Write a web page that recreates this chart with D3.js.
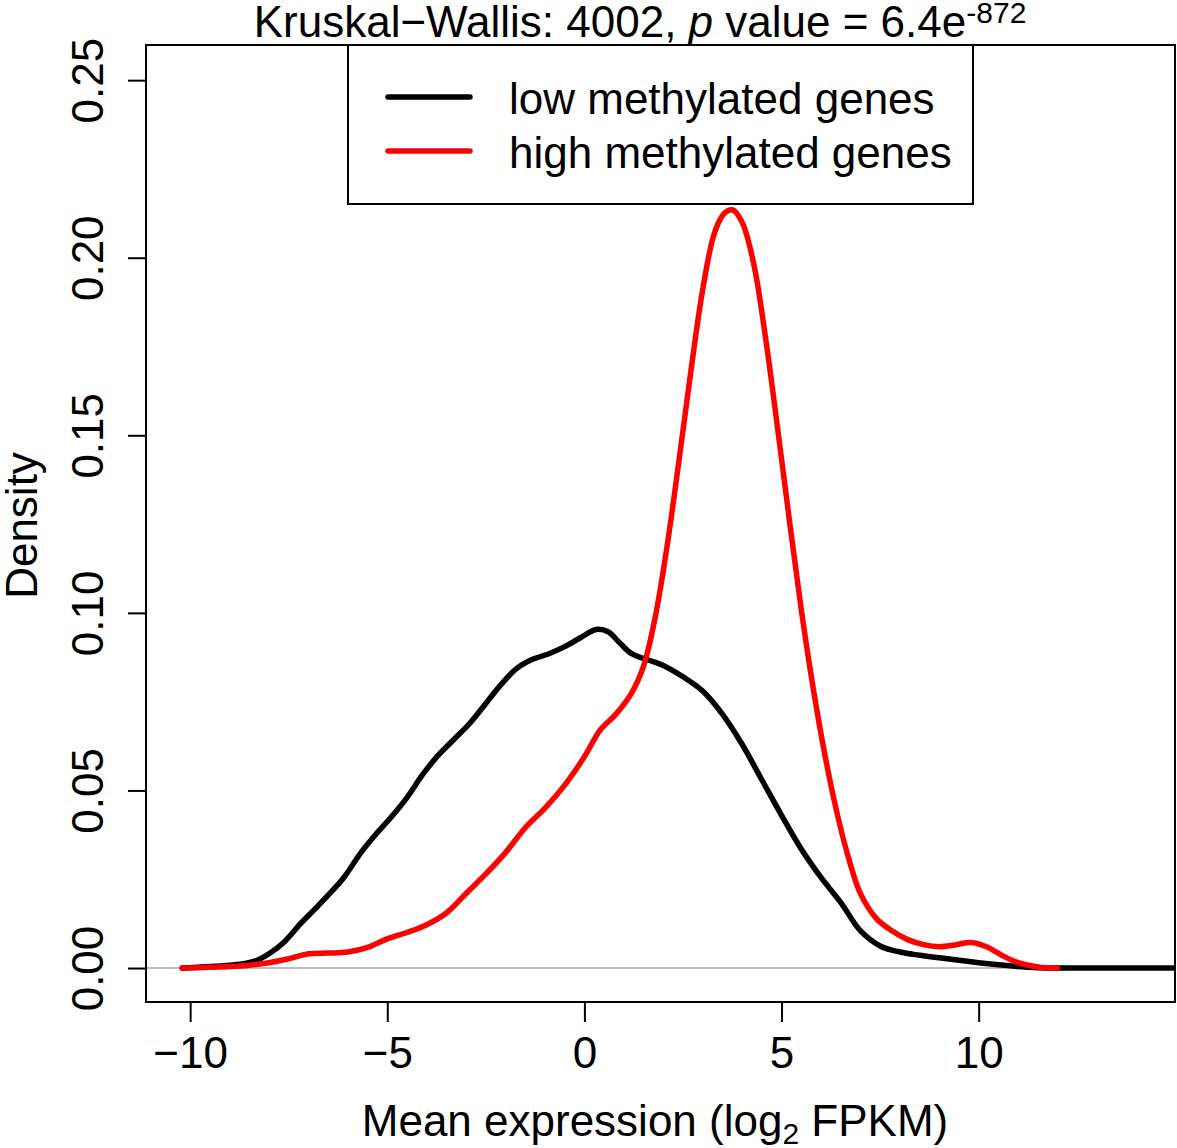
<!DOCTYPE html>
<html>
<head>
<meta charset="utf-8">
<script src="https://cdn.jsdelivr.net/npm/d3@7"></script>
<style>
  html, body { margin: 0; padding: 0; background: #fff; }
  svg { display: block; }
  text { font-family: "Liberation Sans", Arial, sans-serif; fill: #000; }
</style>
</head>
<body>
<svg id="chart" width="1177" height="1148"></svg>
<script>
// ---- Data ----
const xValuesLow = [-10.2, -9.5, -9.0, -8.6, -8.3, -8.0, -7.6, -7.2, -6.8, -6.5, -6.1, -5.7, -5.3, -4.9, -4.5, -4.1, -3.7, -3.3, -2.9, -2.5, -2.1, -1.7, -1.3, -0.9, -0.5, -0.1, 0.3, 0.6, 0.9, 1.2, 1.6, 2.0, 2.5, 3.0, 3.5, 4.0, 4.5, 5.0, 5.5, 6.0, 6.5, 7.0, 7.5, 8.0, 8.5, 9.0, 9.5, 10.0, 10.5, 11.0, 11.5, 12.0, 13.0, 14.0, 14.95];
const densityLow = [0.0000, 0.0004, 0.0008, 0.0013, 0.0022, 0.0040, 0.0075, 0.0125, 0.0170, 0.0205, 0.0255, 0.0320, 0.0375, 0.0425, 0.0480, 0.0545, 0.0600, 0.0645, 0.0690, 0.0745, 0.0800, 0.0845, 0.0870, 0.0885, 0.0905, 0.0930, 0.0953, 0.0947, 0.0915, 0.0885, 0.0868, 0.0852, 0.0820, 0.0780, 0.0715, 0.0630, 0.0530, 0.0430, 0.0335, 0.0255, 0.0185, 0.0105, 0.0062, 0.0045, 0.0036, 0.0029, 0.0022, 0.0015, 0.0009, 0.0004, 0.0001, 0.0000, 0.0000, 0.0000, 0.0000];

const xValuesHigh = [-10.2, -9.5, -9.0, -8.5, -8.0, -7.5, -7.0, -6.5, -6.0, -5.5, -5.0, -4.5, -4.0, -3.5, -3.0, -2.5, -2.0, -1.5, -1.0, -0.5, 0.0, 0.4, 0.8, 1.2, 1.5, 1.8, 2.1, 2.4, 2.7, 3.0, 3.3, 3.55, 3.75, 4.0, 4.3, 4.6, 4.9, 5.2, 5.5, 5.8, 6.1, 6.4, 6.7, 7.0, 7.4, 7.8, 8.2, 8.6, 9.0, 9.4, 9.8, 10.2, 10.6, 11.0, 11.5, 12.0];
const densityHigh = [0.0000, 0.0002, 0.0004, 0.0008, 0.0015, 0.0026, 0.0040, 0.0042, 0.0045, 0.0058, 0.0082, 0.0100, 0.0122, 0.0155, 0.0210, 0.0265, 0.0325, 0.0395, 0.0450, 0.0515, 0.0595, 0.0670, 0.0715, 0.0775, 0.0850, 0.0990, 0.1190, 0.1430, 0.1680, 0.1910, 0.2070, 0.2125, 0.2135, 0.2100, 0.1980, 0.1770, 0.1520, 0.1260, 0.1010, 0.0790, 0.0600, 0.0440, 0.0310, 0.0210, 0.0140, 0.0105, 0.0080, 0.0066, 0.0060, 0.0065, 0.0072, 0.0060, 0.0035, 0.0015, 0.0003, 0.0000];

const seriesNames = ["low methylated genes", "high methylated genes"];
const seriesColors = ["#000000", "#ff0000"];
const xTicks = [-10, -5, 0, 5, 10];
const xTickLabels = ["\u221210", "\u22125", "0", "5", "10"];
const yTicks = [0.00, 0.05, 0.10, 0.15, 0.20, 0.25];
const yTickLabels = ["0.00", "0.05", "0.10", "0.15", "0.20", "0.25"];

// ---- Layout ----
const plot = { left: 146, right: 1175, top: 45, bottom: 1002 };
const svg = d3.select("#chart");

const x = d3.scaleLinear().domain([-11.12, 14.98]).range([plot.left, plot.right]);
const y = d3.scaleLinear().domain([-0.00957, 0.2599]).range([plot.bottom, plot.top]);

const fs = 44;
const fsSmall = 30;

// clip
svg.append("defs").append("clipPath").attr("id", "clip")
  .append("rect").attr("x", plot.left).attr("y", plot.top)
  .attr("width", plot.right - plot.left).attr("height", plot.bottom - plot.top);

// zero baseline
svg.append("line")
  .attr("x1", plot.left).attr("x2", plot.right)
  .attr("y1", y(0)).attr("y2", y(0))
  .attr("stroke", "#bebebe").attr("stroke-width", 2);

// curves
const line = d3.line().x(d => x(d[0])).y(d => y(d[1])).curve(d3.curveCatmullRom.alpha(0.5));
const lowData = xValuesLow.map((v, i) => [v, densityLow[i]]);
const highData = xValuesHigh.map((v, i) => [v, densityHigh[i]]);

const g = svg.append("g").attr("clip-path", "url(#clip)");
g.append("path").datum(lowData).attr("d", line)
  .attr("fill", "none").attr("stroke", seriesColors[0]).attr("stroke-width", 5.5)
  .attr("stroke-linecap", "round").attr("stroke-linejoin", "round");
g.append("path").datum(highData).attr("d", line)
  .attr("fill", "none").attr("stroke", seriesColors[1]).attr("stroke-width", 5.5)
  .attr("stroke-linecap", "round").attr("stroke-linejoin", "round");

// box
svg.append("rect")
  .attr("x", plot.left).attr("y", plot.top)
  .attr("width", plot.right - plot.left).attr("height", plot.bottom - plot.top)
  .attr("fill", "none").attr("stroke", "#000").attr("stroke-width", 2);

// x axis
const xAxis = d3.axisBottom(x).tickValues(xTicks)
  .tickFormat((d, i) => xTickLabels[i]).tickSize(20).tickPadding(15);
const gx = svg.append("g").attr("transform", `translate(0,${plot.bottom})`).call(xAxis);
gx.select(".domain").attr("stroke", "#000").attr("stroke-width", 2)
  .attr("d", `M${x(-10)},0H${x(10)}`);
gx.selectAll(".tick line").attr("stroke", "#000").attr("stroke-width", 2);
gx.selectAll(".tick text").attr("font-size", fs).attr("font-family", "Liberation Sans, Arial, sans-serif").attr("fill", "#000");

// y axis
const yAxis = d3.axisLeft(y).tickValues(yTicks)
  .tickFormat((d, i) => yTickLabels[i]).tickSize(18).tickPadding(0);
const gy = svg.append("g").attr("transform", `translate(${plot.left},0)`).call(yAxis);
gy.select(".domain").attr("stroke", "#000").attr("stroke-width", 2)
  .attr("d", `M0,${y(0)}V${y(0.25)}`);
gy.selectAll(".tick line").attr("stroke", "#000").attr("stroke-width", 2);
gy.selectAll(".tick text")
  .attr("font-size", fs).attr("font-family", "Liberation Sans, Arial, sans-serif").attr("fill", "#000")
  .attr("x", 0).attr("dy", 0)
  .attr("text-anchor", "middle")
  .attr("transform", "translate(-43,0) rotate(-90)");

// axis titles
const xt = svg.append("text")
  .attr("x", 655).attr("y", 1136)
  .attr("text-anchor", "middle").attr("font-size", fs);
xt.append("tspan").text("Mean expression (log");
xt.append("tspan").attr("font-size", fsSmall).attr("dy", 8).text("2");
xt.append("tspan").attr("dy", -8).text(" FPKM)");

svg.append("text")
  .attr("transform", `translate(37,${(plot.top + plot.bottom) / 2 + 2}) rotate(-90)`)
  .attr("text-anchor", "middle").attr("font-size", fs).text("Density");

// title
const tt = svg.append("text")
  .attr("x", 640).attr("y", 37).attr("text-anchor", "middle").attr("font-size", fs);
tt.append("tspan").text("Kruskal\u2212Wallis: 4002, ");
tt.append("tspan").attr("font-style", "italic").text("p");
tt.append("tspan").text(" value = 6.4e");
tt.append("tspan").attr("font-size", fsSmall).attr("dy", -14).text("-872");

// legend
const legend = { left: 348, right: 973, top: 45, bottom: 204 };
svg.append("rect")
  .attr("x", legend.left).attr("y", legend.top)
  .attr("width", legend.right - legend.left).attr("height", legend.bottom - legend.top)
  .attr("fill", "#fff").attr("stroke", "#000").attr("stroke-width", 2);
const rowY = [97, 151];
seriesNames.forEach((name, i) => {
  svg.append("line")
    .attr("x1", legend.left + 40).attr("x2", legend.left + 122)
    .attr("y1", rowY[i]).attr("y2", rowY[i])
    .attr("stroke", seriesColors[i]).attr("stroke-width", 5.5).attr("stroke-linecap", "round");
  svg.append("text")
    .attr("x", legend.left + 161).attr("y", rowY[i] + 17)
    .attr("font-size", fs).text(name);
});
</script>
</body>
</html>
